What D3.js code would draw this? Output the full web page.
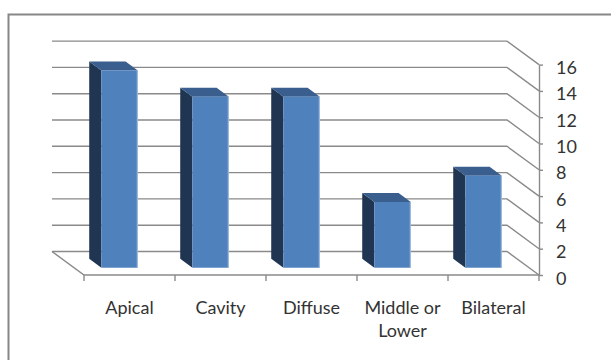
<!DOCTYPE html>
<html>
<head>
<meta charset="utf-8">
<script src="https://cdn.jsdelivr.net/npm/d3@7/dist/d3.min.js"></script>
<style>
  html, body { margin: 0; padding: 0; background: #fff; }
  svg { display: block; }
  text { font-family: Lato, "Open Sans", sans-serif; fill: #333; }
</style>
</head>
<body>
<script>
// Chart data
const categories = ["Apical", "Cavity", "Diffuse", "Middle or Lower", "Bilateral"];
const categoryLines = [["Apical"], ["Cavity"], ["Diffuse"], ["Middle or", "Lower"], ["Bilateral"]];
const values = [15, 13, 13, 5, 7];
const yTicks = [0, 2, 4, 6, 8, 10, 12, 14, 16];

const W = 611, H = 360;
const svg = d3.select("body").append("svg").attr("width", W).attr("height", H);

// Chart area frame
svg.append("rect")
  .attr("x", 8.5).attr("y", 14.5)
  .attr("width", W + 20).attr("height", H + 20)
  .attr("fill", "#fff").attr("stroke", "#878787").attr("stroke-width", 2);

// Front plane scales
const x = d3.scaleBand().domain(categories).range([84, 539])
  .paddingInner(0.6).paddingOuter(0.3);
const y = d3.scaleLinear().domain([0, 16]).range([275, 275 - 16 * 13.15]);

// Oblique depth offset (front plane -> back wall)
const depth = { dx: -32, dy: -23.5 };
const off = f => [depth.dx * f, depth.dy * f];
const x0 = x.range()[0], x1 = x.range()[1];

const grid = svg.append("g").attr("fill", "none").attr("stroke", "#8a8a8a").attr("stroke-width", 1.4);

// Back-wall gridlines bending forward to the value axis
yTicks.forEach(t => {
  const [bx, by] = off(1);
  grid.append("path")
    .attr("d", d3.line()([[x0 + bx, y(t) + by], [x1 + bx, y(t) + by], [x1, y(t)]]));
});

// Floor: left edge and front edge
grid.append("path").attr("d", d3.line()([[x0 + off(1)[0], y(0) + off(1)[1]], [x0, y(0)], [x1, y(0)]]));

// Category tick marks
const boundaries = categories.map(c => x(c) - x.step() * x.paddingOuter()).concat([x1]);
boundaries.forEach(b => {
  grid.append("line").attr("x1", b).attr("x2", b).attr("y1", y(0)).attr("y2", y(0) + 6);
});

// Value axis on the front right edge
const axis = svg.append("g")
  .attr("transform", `translate(${x1},0)`)
  .call(d3.axisRight(y).tickValues(yTicks).tickSize(4).tickSizeOuter(0).tickPadding(13));
axis.select(".domain").attr("stroke", "#8a8a8a").attr("stroke-width", 1.4);
axis.selectAll(".tick line").attr("stroke", "#8a8a8a").attr("stroke-width", 1.4);
axis.selectAll(".tick text")
  .attr("dy", "0.5em")
  .style("font-family", "Lato, 'Open Sans', sans-serif")
  .style("font-size", "18px")
  .attr("fill", "#333");

// 3D columns
const fFront = 0.31, fBack = 0.69;
const bars = svg.append("g");
categories.forEach((c, i) => {
  const v = values[i];
  const [fx, fy] = off(fFront);
  const [kx, ky] = off(fBack);
  const L = x(c), R = x(c) + x.bandwidth();
  const yb = y(0), yt = y(v);
  const g = bars.append("g");
  // left side face
  g.append("path").attr("fill", "#1f3551")
    .attr("d", d3.line()([[L + fx, yb + fy], [L + fx, yt + fy], [L + kx, yt + ky], [L + kx, yb + ky]]) + "Z");
  // top face
  g.append("path").attr("fill", "#3a5f8e")
    .attr("d", d3.line()([[L + fx, yt + fy], [R + fx, yt + fy], [R + kx, yt + ky], [L + kx, yt + ky]]) + "Z");
  // front face
  g.append("rect").attr("fill", "#4f81bd")
    .attr("x", L + fx).attr("y", yt + fy)
    .attr("width", R - L).attr("height", yb - yt);
  // light right edge of the front face
  g.append("line").attr("stroke", "#a9c2e2").attr("stroke-width", 1)
    .attr("x1", R + fx - 0.5).attr("x2", R + fx - 0.5)
    .attr("y1", yt + fy).attr("y2", yb + fy);
});

// Category labels
const labels = svg.append("g").attr("text-anchor", "middle").style("font-size", "18px");
categories.forEach((c, i) => {
  const t = labels.append("text")
    .attr("x", x(c) + x.bandwidth() / 2)
    .attr("y", 313.5);
  categoryLines[i].forEach((ln, j) => {
    t.append("tspan").attr("x", x(c) + x.bandwidth() / 2).attr("dy", j === 0 ? 0 : 23.5).text(ln);
  });
});
</script>
</body>
</html>
